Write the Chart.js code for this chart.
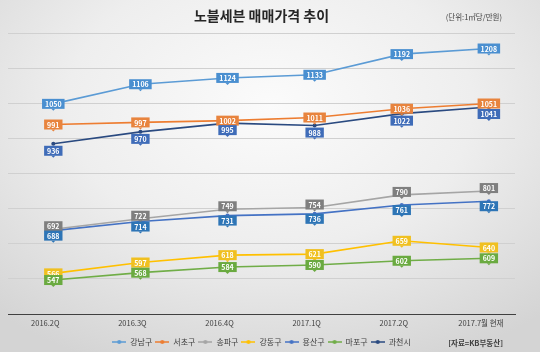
<!DOCTYPE html>
<html>
<head>
<meta charset="utf-8">
<script src="https://cdn.jsdelivr.net/npm/chart.js@4"></script>
<style>
  html, body { margin: 0; padding: 0; }
  body {
    width: 540px; height: 352px; overflow: hidden;
    background: radial-gradient(ellipse 75% 80% at 50% 30%, #fbfbfb 0%, #eeeeee 50%, #d4d4d4 100%);
  }
  #wrap { position: relative; width: 540px; height: 352px; }
</style>
</head>
<body>
<div id="wrap"><canvas id="priceChart"></canvas></div>
<script>
const quarters = ['2016.2Q', '2016.3Q', '2016.4Q', '2017.1Q', '2017.2Q', '2017.7월 현재'];

const gangnam  = [1050, 1106, 1124, 1133, 1192, 1208];
const seocho   = [991, 997, 1002, 1011, 1036, 1051];
const songpa   = [692, 722, 749, 754, 790, 801];
const gangdong = [566, 597, 618, 621, 659, 640];
const yongsan  = [688, 714, 731, 736, 761, 772];
const mapo     = [547, 568, 584, 590, 602, 609];
const gwacheon = [936, 970, 995, 988, 1022, 1041];

const yTicks = [450, 550, 650, 750, 850, 950, 1050, 1150, 1250];

document.addEventListener('DOMContentLoaded', function() {
    const font = "'Noto Sans CJK KR', 'Noto Sans', sans-serif";

    // line + dot marker for the legend
    const legendMark = (color) => {
        const c = document.createElement('canvas');
        c.width = 14; c.height = 6;
        const g = c.getContext('2d');
        g.strokeStyle = color; g.lineWidth = 1.5;
        g.beginPath(); g.moveTo(0, 3); g.lineTo(14, 3); g.stroke();
        g.fillStyle = color;
        g.beginPath(); g.arc(7, 3, 2, 0, Math.PI * 2); g.fill();
        return c;
    };

    const series = [
        { label: '강남구', data: gangnam,  color: '#5b9bd5', box: '#4a8fd0', dy: 0 },
        { label: '서초구', data: seocho,   color: '#ed7d31', box: '#e8843e', dy: 0 },
        { label: '송파구', data: songpa,   color: '#a5a5a5', box: '#7f7f7f', dy: -3 },
        { label: '강동구', data: gangdong, color: '#ffc000', box: '#f0c020', dy: 0 },
        { label: '용산구', data: yongsan,  color: '#4472c4', box: '#2e75b6', dy: 5 },
        { label: '마포구', data: mapo,     color: '#70ad47', box: '#6aaa40', dy: 0 },
        { label: '과천시', data: gwacheon, color: '#2a4a80', box: '#3f6cb8', dy: 7 }
    ];

    // value boxes on each point
    const valueBoxes = {
        id: 'valueBoxes',
        afterDatasetsDraw(chart) {
            const ctx = chart.ctx;
            ctx.save();
            ctx.font = "bold 7px " + font;
            ctx.textAlign = 'center';
            ctx.textBaseline = 'middle';
            chart.data.datasets.forEach((ds, i) => {
                const meta = chart.getDatasetMeta(i);
                meta.data.forEach((pt, j) => {
                    const txt = String(ds.data[j].y);
                    const w = ctx.measureText(txt).width + 6;
                    const h = 10;
                    const x = pt.x, y = pt.y + ds.boxOffset;
                    ctx.fillStyle = ds.boxColor;
                    ctx.fillRect(x - w / 2, y - h / 2, w, h);
                    ctx.beginPath();
                    ctx.moveTo(x - 2, y + h / 2);
                    ctx.lineTo(x + 2, y + h / 2);
                    ctx.lineTo(x, y + h / 2 + 2);
                    ctx.fill();
                    ctx.fillStyle = '#ffffff';
                    ctx.fillText(txt, x, y + 0.5);
                });
            });
            ctx.restore();
        }
    };

    // unit note and source note
    const notes = {
        id: 'notes',
        afterDraw(chart) {
            const ctx = chart.ctx;
            ctx.save();
            ctx.fillStyle = '#404040';
            ctx.font = "7.5px " + font;
            ctx.textAlign = 'right';
            ctx.textBaseline = 'middle';
            ctx.fillText('(단위:1㎡당/만원)', 502, 17);
            ctx.font = "bold 7.5px " + font;
            ctx.fillText('[자료=KB부동산]', 503, 343);
            ctx.restore();
        }
    };

    new Chart(document.getElementById('priceChart').getContext('2d'), {
        type: 'line',
        data: {
            datasets: series.map(s => ({
                label: s.label,
                data: s.data.map((v, i) => ({ x: i, y: v })),
                borderColor: s.color,
                backgroundColor: s.color,
                borderWidth: 1.6,
                pointRadius: 2,
                pointBorderWidth: 0,
                tension: 0,
                boxColor: s.box,
                boxOffset: s.dy,
                legendMark: legendMark(s.color)
            }))
        },
        options: {
            responsive: true,
            maintainAspectRatio: false,
            animation: false,
            layout: { padding: { left: 8, right: 25, top: 0, bottom: -4 } },
            plugins: {
                title: {
                    display: true,
                    text: '노블세븐 매매가격 추이',
                    color: '#262626',
                    font: { family: font, size: 14, weight: 'bold' },
                    padding: { top: 7, bottom: 10 }
                },
                legend: {
                    position: 'bottom',
                    labels: {
                        usePointStyle: true,
                        pointStyleWidth: 14,
                        color: '#404040',
                        font: { family: font, size: 8 },
                        padding: 3,
                        generateLabels(chart) {
                            return chart.data.datasets.map((ds, i) => ({
                                text: ds.label,
                                pointStyle: ds.legendMark,
                                fontColor: '#404040',
                                strokeStyle: ds.borderColor,
                                fillStyle: ds.borderColor,
                                lineWidth: 0,
                                datasetIndex: i,
                                hidden: false
                            }));
                        }
                    }
                },
                tooltip: { enabled: false }
            },
            scales: {
                x: {
                    type: 'linear',
                    min: -0.52,
                    max: 5.3,
                    afterBuildTicks: axis => {
                        axis.ticks = quarters.map((q, i) => ({ value: i }));
                    },
                    afterFit: axis => { axis.height += 2; },
                    grid: { display: false, drawTicks: false },
                    border: { display: true, color: '#404040', width: 1 },
                    ticks: {
                        callback: v => quarters[v],
                        labelOffset: -8,
                        padding: 5,
                        maxRotation: 0,
                        autoSkip: false,
                        color: '#404040',
                        font: { family: font, size: 7.5 }
                    }
                },
                y: {
                    min: 450,
                    max: 1250,
                    afterBuildTicks: axis => {
                        axis.ticks = yTicks.map(v => ({ value: v }));
                    },
                    ticks: { display: false },
                    border: { display: false },
                    grid: { color: '#d0d0d0', lineWidth: 1, drawTicks: false }
                }
            }
        },
        plugins: [valueBoxes, notes]
    });
});
</script>
</body>
</html>
